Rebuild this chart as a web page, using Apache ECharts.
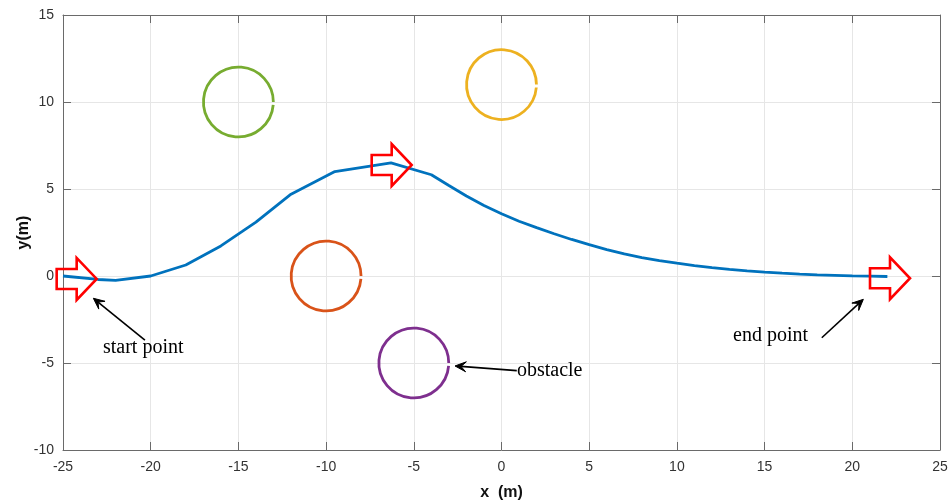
<!DOCTYPE html>
<html>
<head>
<meta charset="utf-8">
<script src="https://cdn.jsdelivr.net/npm/echarts@6/dist/echarts.min.js"></script>
<style>
html,body{margin:0;padding:0;background:#fff;}
#chart{width:952px;height:503px;}
</style>
</head>
<body>
<div id="chart"></div>
<script>
// ---- data ----
const pathX = [-25,-23,-22,-20,-18,-16,-14.8,-14,-12,-9.5,-6.3,-4,-3,-2,-1,0,1,2,3,4,5,6,7,8,9,10,11,12,13,14,15,16,17,18,19,20,21,22];
const pathY = [0,-0.2,-0.25,0,0.63,1.73,2.55,3.1,4.7,6.0,6.5,5.82,5.2,4.6,4.05,3.58,3.15,2.78,2.43,2.1,1.8,1.52,1.27,1.06,0.89,0.74,0.6,0.48,0.38,0.29,0.22,0.16,0.11,0.07,0.04,0.01,-0.01,-0.03];

const obstacleX = [-15, 0, -10, -5];
const obstacleY = [10, 11, 0, -5];
const obstacleR = [2, 2, 2, 2];
const obstacleColors = ['#77AC30', '#EDB120', '#D95319', '#7E2F8E'];

const poseX = [-23.08, -5.12, 23.29];
const poseY = [-0.17, 6.38, -0.13];

const noteText = ['start point', 'obstacle', 'end point'];
const noteX = [-22.72, 0.88, 13.2];
const noteY = [-4.14, -5.46, -3.45];
const noteTailX = [-20.33, 0.87, 18.26];
const noteTailY = [-3.68, -5.44, -3.55];
const noteTipX = [-23.27, -2.65, 20.63];
const noteTipY = [-1.28, -5.17, -1.34];

const xMin = -25, xMax = 25, yMin = -10, yMax = 15, tickStep = 5;

// ---- build ----
const pathData = pathX.map((x, i) => [x, pathY[i]]);
const obstacleData = obstacleX.map((x, i) => [x, obstacleY[i], obstacleR[i], i]);
const poseData = poseX.map((x, i) => [x, poseY[i]]);
const noteData = noteText.map((t, i) => [noteX[i], noteY[i], i]);
const noteArrowData = noteTailX.map((x, i) => [x, noteTailY[i], noteTipX[i], noteTipY[i]]);

const axisColor = '#6a6a6a';
const labelFont = { color: '#333', fontFamily: 'Liberation Sans, Arial, sans-serif', fontSize: 14 };

const chart = echarts.init(document.getElementById('chart'), null, { renderer: 'canvas' });

function baseX(extra) {
  return Object.assign({
    type: 'value', min: xMin, max: xMax, interval: tickStep,
    axisLine: { show: true, onZero: false, lineStyle: { color: axisColor, width: 1 } },
    axisTick: { show: true, inside: true, length: 8, lineStyle: { color: axisColor, width: 1 } },
    splitLine: { show: false },
    axisLabel: { show: false }
  }, extra);
}
function baseY(extra) {
  return Object.assign({
    type: 'value', min: yMin, max: yMax, interval: tickStep,
    axisLine: { show: true, onZero: false, lineStyle: { color: axisColor, width: 1 } },
    axisTick: { show: true, inside: true, length: 8, lineStyle: { color: axisColor, width: 1 } },
    splitLine: { show: false },
    axisLabel: { show: false }
  }, extra);
}

const option = {
  animation: false,
  backgroundColor: '#fff',
  grid: { left: 63, right: 12, top: 15, bottom: 53, containLabel: false, outerBoundsMode: 'none' },
  xAxis: [
    baseX({
      position: 'bottom',
      name: 'x  (m)', nameLocation: 'middle', nameGap: 35, nameMoveOverlap: false,
      nameTextStyle: { color: '#111', fontFamily: 'Liberation Sans, Arial, sans-serif', fontSize: 16, fontWeight: 'bold' },
      splitLine: { show: true, lineStyle: { color: '#e6e6e6', width: 1 } },
      axisLabel: Object.assign({ show: true, margin: 10 }, labelFont)
    }),
    baseX({ position: 'top' })
  ],
  yAxis: [
    baseY({
      position: 'left',
      name: 'y(m)', nameLocation: 'middle', nameGap: 31, nameRotate: 90, nameMoveOverlap: false,
      nameTextStyle: { color: '#111', fontFamily: 'Liberation Sans, Arial, sans-serif', fontSize: 16, fontWeight: 'bold' },
      splitLine: { show: true, lineStyle: { color: '#e6e6e6', width: 1 } },
      axisLabel: Object.assign({ show: true, margin: 9 }, labelFont)
    }),
    baseY({ position: 'right' })
  ],
  series: [
    {
      type: 'line', data: pathData, showSymbol: false, smooth: false,
      lineStyle: { color: '#0072BD', width: 2.8 }, z: 3
    },
    {
      type: 'custom', data: obstacleData, z: 4, clip: false,
      renderItem: function (params, api) {
        const c = api.coord([api.value(0), api.value(1)]);
        const s = api.size([api.value(2), api.value(2)]);
        const r = (s[0] + s[1]) / 2;
        return {
          type: 'arc',
          shape: { cx: c[0], cy: c[1], r: r, startAngle: 2 * Math.PI - 6.2, endAngle: 2 * Math.PI, clockwise: true },
          style: { stroke: obstacleColors[api.value(3)], lineWidth: 2.8, fill: null }
        };
      }
    },
    {
      type: 'custom', data: poseData, z: 5, clip: false,
      renderItem: function (params, api) {
        const c = api.coord([api.value(0), api.value(1)]);
        const L = 40, H = 20, hh = 10, hw = 21;
        const pts = [[-L, -hh], [-H, -hh], [-H, -hw], [0, 0], [-H, hw], [-H, hh], [-L, hh]]
          .map(p => [c[0] + p[0], c[1] + p[1]]);
        return {
          type: 'polygon', shape: { points: pts },
          style: { stroke: '#ff0000', lineWidth: 2.6, fill: null, lineJoin: 'miter' }
        };
      }
    },
    {
      type: 'custom', data: noteArrowData, z: 6, clip: false,
      renderItem: function (params, api) {
        const a = api.coord([api.value(0), api.value(1)]);
        const b = api.coord([api.value(2), api.value(3)]);
        const dx = b[0] - a[0], dy = b[1] - a[1];
        const len = Math.sqrt(dx * dx + dy * dy);
        const ux = dx / len, uy = dy / len, nx = -uy, ny = ux;
        const hl = 11, hw = 5, notch = 6;
        const head = [
          [b[0], b[1]],
          [b[0] - ux * hl + nx * hw, b[1] - uy * hl + ny * hw],
          [b[0] - ux * notch, b[1] - uy * notch],
          [b[0] - ux * hl - nx * hw, b[1] - uy * hl - ny * hw]
        ];
        return {
          type: 'group',
          children: [
            { type: 'line', shape: { x1: a[0], y1: a[1], x2: b[0] - ux * notch, y2: b[1] - uy * notch },
              style: { stroke: '#000', lineWidth: 1.6 } },
            { type: 'polygon', shape: { points: head }, style: { fill: '#000', stroke: '#000', lineWidth: 1 } }
          ]
        };
      }
    },
    {
      type: 'custom', data: noteData, z: 7, clip: false,
      renderItem: function (params, api) {
        const c = api.coord([api.value(0), api.value(1)]);
        return {
          type: 'text', x: c[0], y: c[1],
          style: {
            text: noteText[api.value(2)], fill: '#000',
            font: '20px "Liberation Serif", "Times New Roman", serif',
            textAlign: 'left', textVerticalAlign: 'middle'
          }
        };
      }
    }
  ]
};
chart.setOption(option);
</script>
</body>
</html>
